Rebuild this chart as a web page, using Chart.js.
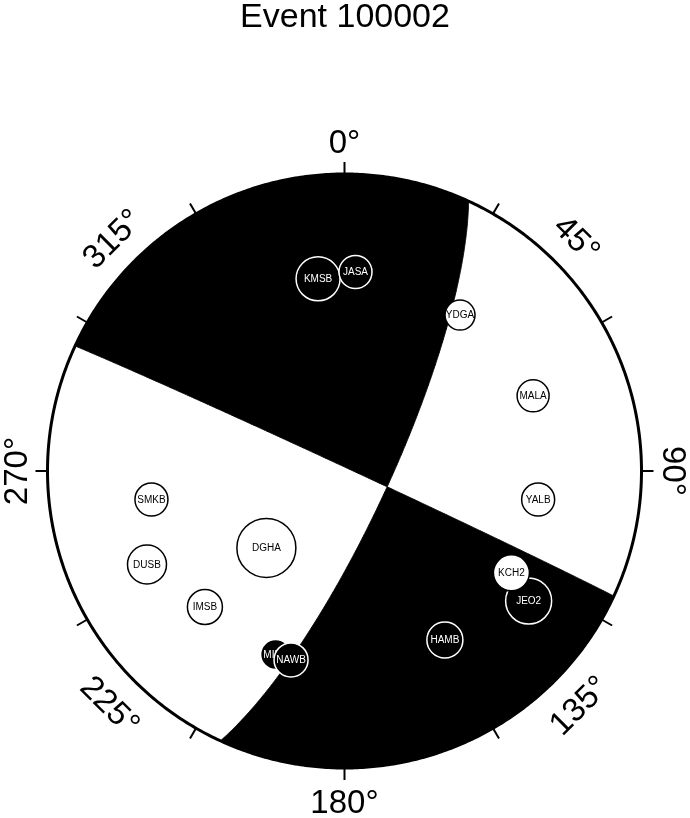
<!DOCTYPE html>
<html>
<head>
<meta charset="utf-8">
<script src="https://cdn.jsdelivr.net/npm/chart.js@4.4.0/dist/chart.umd.min.js"></script>
<style>
  html, body { margin: 0; padding: 0; background: #fff; }
  #wrap { width: 690px; height: 818px; }
</style>
</head>
<body>
<div id="wrap"><canvas id="ball" width="690" height="818"></canvas></div>
<script>
// --- data ---
const titleText = 'Event 100002';

// nodal planes (degrees): strike, dip
const planeStrikes = [24.7, 294.9];
const planeDips = [77.6, 89];

// stations, in unit-circle coords (x east, y north), marker radius in px, polarity
const stationNames = ['KMSB', 'JASA', 'YDGA', 'MALA', 'YALB', 'JEO2', 'KCH2', 'HAMB',
                      'SMKB', 'DUSB', 'DGHA', 'IMSB', 'MIKB', 'NAWB'];
const stationX = [-0.089, 0.037, 0.389, 0.635, 0.652, 0.620, 0.562, 0.338,
                  -0.650, -0.665, -0.263, -0.470, -0.232, -0.180];
const stationY = [0.647, 0.670, 0.525, 0.253, -0.096, -0.438, -0.343, -0.569,
                  -0.096, -0.315, -0.259, -0.458, -0.618, -0.636];
const stationSizes = [22, 16.5, 15, 16, 16.5, 23, 18, 18, 16.5, 19.5, 29.5, 17.5, 15, 17];
const stationPolarity = ['C', 'C', 'D', 'D', 'D', 'C', 'D', 'C',
                         'D', 'D', 'D', 'D', 'C', 'C'];

const tickAngles = [0, 30, 60, 90, 120, 150, 180, 210, 240, 270, 300, 330];
const labelAngles = [0, 45, 90, 135, 180, 225, 270, 315];

// --- geometry helpers (lower hemisphere, equal area) ---
const D2R = Math.PI / 180;

function project(trend, plunge) {
    const r = Math.SQRT2 * Math.sin((90 - plunge) / 2 * D2R);
    return { x: r * Math.sin(trend * D2R), y: r * Math.cos(trend * D2R) };
}

function strikeVec(s) { return [Math.cos(s * D2R), Math.sin(s * D2R), 0]; }
function dipVec(s, d) {
    return [Math.cos(d * D2R) * Math.cos((s + 90) * D2R),
            Math.cos(d * D2R) * Math.sin((s + 90) * D2R),
            Math.sin(d * D2R)];
}
function normalVec(s, d) {
    return [-Math.sin(d * D2R) * Math.sin(s * D2R), Math.sin(d * D2R) * Math.cos(s * D2R), -Math.cos(d * D2R)];
}
function dot(a, b) { return a[0] * b[0] + a[1] * b[1] + a[2] * b[2]; }
function cross(a, b) {
    return [a[1] * b[2] - a[2] * b[1], a[2] * b[0] - a[0] * b[2], a[0] * b[1] - a[1] * b[0]];
}

function planePoint(i, t) {
    const S = strikeVec(planeStrikes[i]);
    const Dv = dipVec(planeStrikes[i], planeDips[i]);
    const c = Math.cos(t * D2R), s = Math.sin(t * D2R);
    const v = [S[0] * c + Dv[0] * s, S[1] * c + Dv[1] * s, S[2] * c + Dv[2] * s];
    const trend = Math.atan2(v[1], v[0]) / D2R;
    const plunge = Math.asin(Math.max(-1, Math.min(1, v[2]))) / D2R;
    return project(trend, plunge);
}

// where the null axis sits along each plane (0..180)
const nullAxis = cross(normalVec(planeStrikes[0], planeDips[0]), normalVec(planeStrikes[1], planeDips[1]));
function nullParam(i) {
    let t = Math.atan2(dot(nullAxis, dipVec(planeStrikes[i], planeDips[i])),
                       dot(nullAxis, strikeVec(planeStrikes[i]))) / D2R;
    if (t < 0) t += 180;
    return t;
}
const tNull = [nullParam(0), nullParam(1)];

function planeRun(i, from, to) {
    const pts = [];
    const n = Math.max(2, Math.ceil(Math.abs(to - from)));
    for (let k = 0; k <= n; k++) pts.push(planePoint(i, from + (to - from) * k / n));
    return pts;
}
function arcRun(fromAz, toAz) {
    const pts = [];
    const n = Math.max(2, Math.ceil(Math.abs(toAz - fromAz)));
    for (let k = 0; k <= n; k++) pts.push(project(fromAz + (toAz - fromAz) * k / n, 0));
    return pts;
}

// compressional quadrants: north and south-east
const northQuad = [].concat(
    planeRun(1, 0, tNull[1]),
    planeRun(0, tNull[0], 0),
    arcRun(planeStrikes[0], planeStrikes[1] - 360)
);
const southQuad = [].concat(
    planeRun(1, 180, tNull[1]),
    planeRun(0, tNull[0], 180),
    arcRun(planeStrikes[0] + 180, planeStrikes[1] - 180)
);
northQuad.push(northQuad[0]);
southQuad.push(southQuad[0]);
const rim = arcRun(0, 360);

// --- layout: centre of ball at (344.5, 471), radius 297 px ---
const CX = 344.5, CY = 471, R = 297, W = 690, H = 818;

const stationData = stationX.map((x, i) => ({ x: x, y: stationY[i] }));

const ballPlugin = {
    id: 'ballDecor',
    beforeDatasetDraw(chart, args) {
        if (args.index !== 3) return;
        const ctx = chart.ctx;
        ctx.save();
        ctx.font = '10px "Liberation Sans", Arial, Helvetica, sans-serif';
        ctx.textAlign = 'center';
        ctx.textBaseline = 'middle';
        args.meta.data.forEach((pt, i) => {
            pt.draw(ctx, chart.chartArea);
            ctx.fillStyle = stationPolarity[i] === 'C' ? '#fff' : '#000';
            ctx.fillText(stationNames[i], pt.x, pt.y + 0.5);
        });
        ctx.restore();
        return false;
    },
    afterDatasetsDraw(chart) {
        const ctx = chart.ctx;
        const xs = chart.scales.x, ys = chart.scales.y;
        const px = v => xs.getPixelForValue(v);
        const py = v => ys.getPixelForValue(v);
        const unit = px(1) - px(0);
        ctx.save();
        // ticks
        ctx.strokeStyle = '#000';
        ctx.lineWidth = 2;
        tickAngles.forEach(a => {
            const sx = Math.sin(a * D2R), cy = Math.cos(a * D2R);
            ctx.beginPath();
            ctx.moveTo(px(sx), py(cy));
            ctx.lineTo(px(sx * (1 + 12 / unit)), py(cy * (1 + 12 / unit)));
            ctx.stroke();
        });
        // angle labels
        ctx.fillStyle = '#000';
        ctx.font = '33px "Liberation Sans", Arial, Helvetica, sans-serif';
        ctx.textAlign = 'center';
        ctx.textBaseline = 'alphabetic';
        const lr = 1 + 33 / unit;
        labelAngles.forEach(a => {
            const x = px(Math.sin(a * D2R) * lr), y = py(Math.cos(a * D2R) * lr);
            let rot = a;
            if (a > 90 && a < 270) rot = a - 180;
            else if (a >= 270) rot = a - 360;
            ctx.save();
            ctx.translate(x, y);
            ctx.rotate(rot * D2R);
            ctx.fillText(a + '\u00b0', 0, 12);
            ctx.restore();
        });
        // title
        ctx.font = '34px "Liberation Sans", Arial, Helvetica, sans-serif';
        ctx.fillText(titleText, W / 2, 27);
        ctx.restore();
    }
};

new Chart(document.getElementById('ball'), {
    type: 'scatter',
    data: {
        datasets: [
            { data: northQuad, showLine: true, fill: 'shape', backgroundColor: '#000',
              borderColor: '#000', borderWidth: 1, tension: 0.0001, pointRadius: 0, order: 4 },
            { data: southQuad, showLine: true, fill: 'shape', backgroundColor: '#000',
              borderColor: '#000', borderWidth: 1, tension: 0.0001, pointRadius: 0, order: 3 },
            { data: rim, showLine: true, fill: false, borderColor: '#000',
              borderWidth: 3, tension: 0.0001, pointRadius: 0, order: 2 },
            { data: stationData, showLine: false,
              pointRadius: stationSizes,
              pointBackgroundColor: stationPolarity.map(p => p === 'C' ? '#000' : '#fff'),
              pointBorderColor: stationPolarity.map(p => p === 'C' ? '#fff' : '#000'),
              pointBorderWidth: 1.5, order: 1 }
        ]
    },
    options: {
        responsive: false,
        animation: false,
        events: [],
        layout: { padding: 0, autoPadding: false },
        plugins: { legend: { display: false }, tooltip: { enabled: false }, title: { display: false } },
        scales: {
            x: { type: 'linear', display: false, min: -CX / R, max: (W - CX) / R },
            y: { type: 'linear', display: false, min: -(H - CY) / R, max: CY / R }
        }
    },
    plugins: [ballPlugin]
});
</script>
</body>
</html>
